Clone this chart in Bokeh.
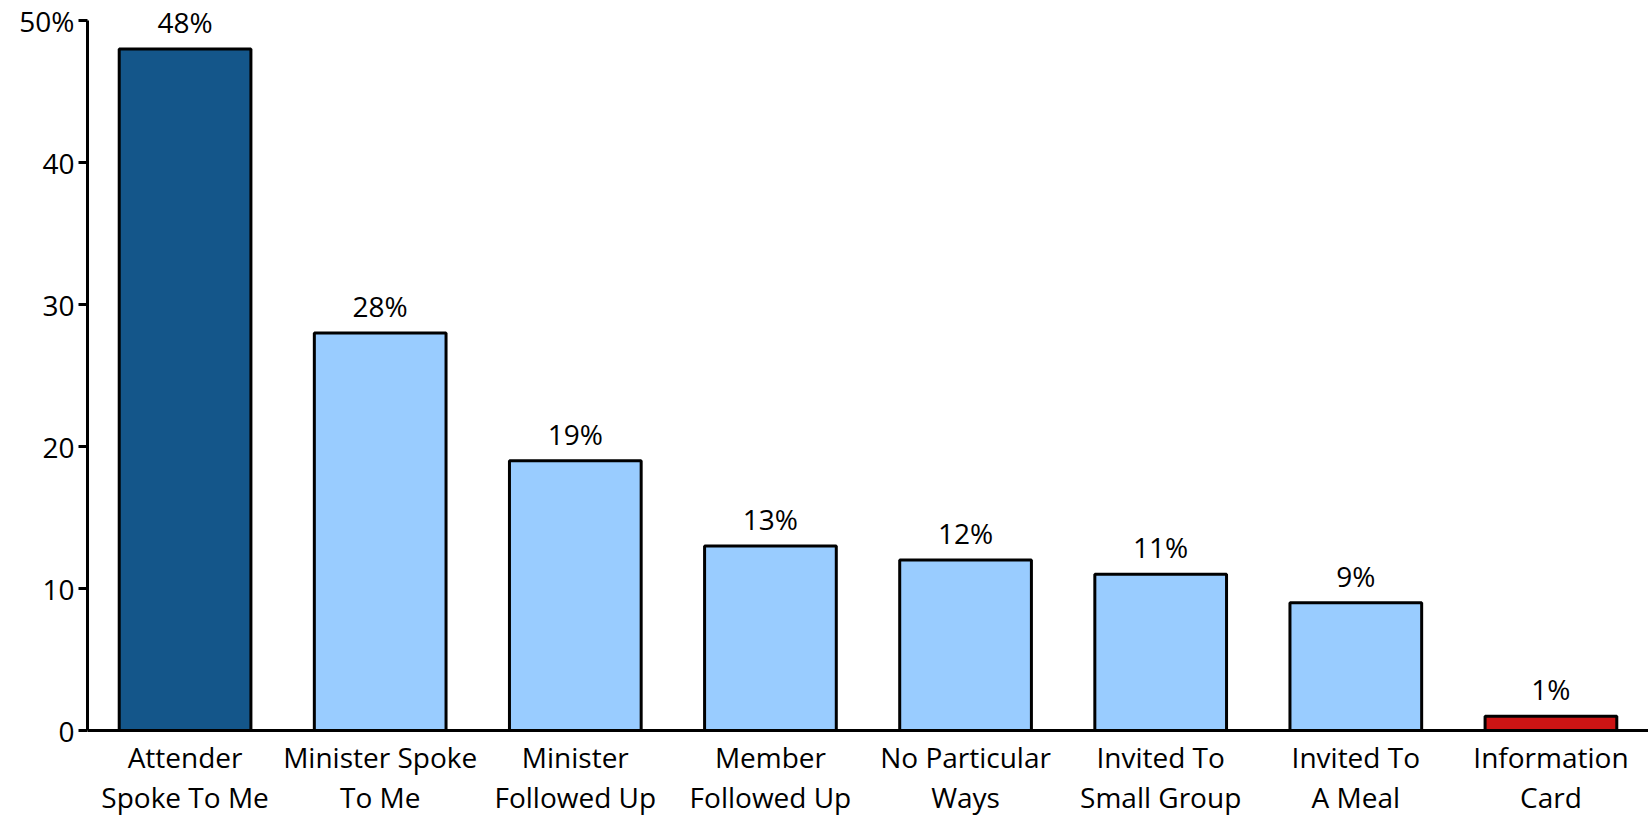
from bokeh.plotting import figure
from bokeh.models import ColumnDataSource, FactorRange, Range1d, FixedTicker, LabelSet, Span
from bokeh.embed import file_html
from bokeh.resources import INLINE
from bokeh.core.properties import value

categories = ["Attender Spoke To Me", "Minister Spoke To Me", "Minister Followed Up",
              "Member Followed Up", "No Particular Ways", "Invited To Small Group",
              "Invited To A Meal", "Information Card"]
label_line1 = ["Attender", "Minister Spoke", "Minister", "Member", "No Particular",
               "Invited To", "Invited To", "Information"]
label_line2 = ["Spoke To Me", "To Me", "Followed Up", "Followed Up", "Ways",
               "Small Group", "A Meal", "Card"]
values = [48, 28, 19, 13, 12, 11, 9, 1]
colors = ["#14568a", "#99ccff", "#99ccff", "#99ccff", "#99ccff", "#99ccff", "#99ccff", "#cc1414"]
y_ticks = [0, 10, 20, 30, 40, 50]
y_tick_labels = ["0", "10", "20", "30", "40", "50%"]

FONT = "Open Sans"
FS = "28px"

W, H = 1648, 816
LEFT = 87
Y_TOP_PX, Y_ZERO_PX = 20, 730
ppu = (Y_ZERO_PX - Y_TOP_PX) / 50.0
y_max = 50 + Y_TOP_PX / ppu
y_min = -(H - Y_ZERO_PX) / ppu

src = ColumnDataSource(dict(cat=categories, val=values, col=colors,
                            lab=[f"{v}%" for v in values],
                            l1=label_line1, l2=label_line2,
                            zero=[0] * len(values)))

p = figure(x_range=FactorRange(*categories, range_padding=0), y_range=Range1d(y_min, y_max),
           width=W, height=H, output_backend="svg", toolbar_location=None,
           min_border_left=LEFT, min_border_right=0, min_border_top=0, min_border_bottom=0)
p.outline_line_color = None
p.xgrid.grid_line_color = None
p.ygrid.grid_line_color = None
p.background_fill_color = "white"
p.border_fill_color = "white"
p.xaxis.visible = False

p.vbar(x="cat", top="val", width=0.675, source=src, fill_color="col",
       line_color="black", line_width=3)

p.add_layout(Span(location=0, dimension="width", line_color="black", line_width=3))

p.add_layout(LabelSet(x="cat", y="val", text="lab", source=src, text_align="center",
                      text_baseline="alphabetic", y_offset=16, text_font=value(FONT),
                      text_font_size=FS, text_color="black"))
p.add_layout(LabelSet(x="cat", y="zero", text="l1", source=src, text_align="center",
                      text_baseline="alphabetic", y_offset=-37, text_font=value(FONT),
                      text_font_size=FS, text_color="black"))
p.add_layout(LabelSet(x="cat", y="zero", text="l2", source=src, text_align="center",
                      text_baseline="alphabetic", y_offset=-77, text_font=value(FONT),
                      text_font_size=FS, text_color="black"))

ya = p.yaxis[0]
ya.ticker = FixedTicker(ticks=y_ticks)
ya.bounds = (0, 50)
ya.major_label_overrides = {t: l for t, l in zip(y_ticks, y_tick_labels)}
ya.axis_line_width = 3
ya.axis_line_color = "black"
ya.major_tick_line_width = 3
ya.major_tick_line_color = "black"
ya.major_tick_out = 9
ya.major_tick_in = 0
ya.minor_tick_line_color = None
ya.major_label_text_font = FONT
ya.major_label_text_font_size = FS
ya.major_label_text_color = "black"
ya.major_label_standoff = 4

open("out.html", "w").write(file_html(p, INLINE))
